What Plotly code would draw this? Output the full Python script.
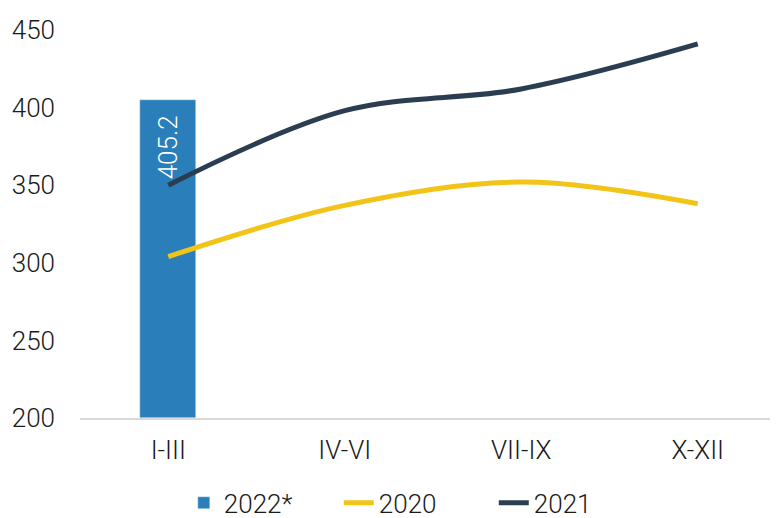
import plotly.graph_objects as go

categories = ["I-III", "IV-VI", "VII-IX", "X-XII"]
bar_cats = ["I-III"]
bar_vals = [405.2]
vals_2020 = [304, 337, 352, 338]
vals_2021 = [350, 398, 412, 441]
tick_vals = [200, 250, 300, 350, 400, 450]

font_fam = "Roboto, 'Open Sans', sans-serif"

fig = go.Figure()
fig.add_trace(go.Bar(
    x=bar_cats, y=[v - 200 for v in bar_vals], base=200,
    name="2022*", marker_color="#2a7fba", width=0.32,
    text=[f"{v:.1f}\u00a0\u00a0" for v in bar_vals], textposition="inside",
    textangle=-90, insidetextanchor="end",
    textfont=dict(color="white", size=26, family=font_fam, weight=300),
))
fig.add_trace(go.Scatter(
    x=categories, y=vals_2020, name="2020", mode="lines",
    line=dict(color="#f2c418", width=5, shape="spline", smoothing=1.0),
))
fig.add_trace(go.Scatter(
    x=categories, y=vals_2021, name="2021", mode="lines",
    line=dict(color="#2b3e51", width=5, shape="spline", smoothing=1.0),
))

fig.update_layout(
    width=778, height=518,
    margin=dict(l=72, r=0, t=22, b=108, autoexpand=False),
    plot_bgcolor="white", paper_bgcolor="white",
    font=dict(family=font_fam, size=26, color="#1a1a1a", weight=300),
    showlegend=True,
    legend=dict(orientation="h", x=0.147, xanchor="left", y=-0.158, yanchor="top",
                font=dict(size=26), traceorder="normal",
                entrywidth=110, entrywidthmode="pixels"),
    xaxis=dict(type="category", range=[-0.5, 3.5], showgrid=False,
               showline=True, linecolor="#d9d9d9", linewidth=2,
               ticks="", ticklabelstandoff=8, automargin=False),
    yaxis=dict(range=[200, 450], tickvals=tick_vals, showgrid=False,
               zeroline=False, showline=False, ticks="", ticklabelstandoff=24,
               automargin=False),
    bargap=0,
)

fig.write_html("out.html")
